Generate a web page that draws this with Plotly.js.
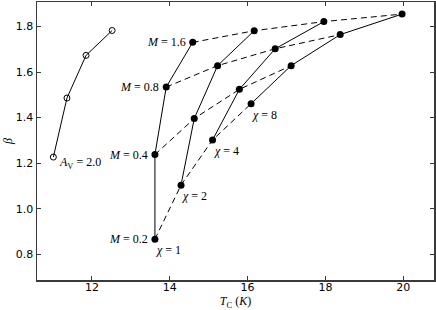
<!DOCTYPE html>
<html>
<head>
<meta charset="utf-8">
<script src="https://cdn.plot.ly/plotly-3.0.1.min.js"></script>
<style>html,body{margin:0;padding:0;background:#fff;}#chart{width:436px;height:310px;}</style>
</head>
<body>
<div id="chart"></div>
<script>
// M values (rows) and chi values (columns)
const Mvals = ["0.2", "0.4", "0.8", "1.6"];
const chiVals = ["1", "2", "4", "8"];
// T_C and beta for each chi, ordered by M
const chi1_T = [13.62, 13.62, 13.91, 14.59];
const chi1_B = [0.867, 1.238, 1.534, 1.730];
const chi2_T = [14.29, 14.63, 15.23, 16.17];
const chi2_B = [1.104, 1.396, 1.628, 1.781];
const chi4_T = [15.10, 15.79, 16.71, 17.96];
const chi4_B = [1.302, 1.524, 1.702, 1.821];
const chi8_T = [16.09, 17.12, 18.38, 19.97];
const chi8_B = [1.461, 1.628, 1.764, 1.854];
// A_V = 2.0 series (open circles)
const av_T = [11.01, 11.36, 11.85, 12.52];
const av_B = [1.227, 1.486, 1.673, 1.782];
const avLabel = "2.0";

const chiT = [chi1_T, chi2_T, chi4_T, chi8_T];
const chiB = [chi1_B, chi2_B, chi4_B, chi8_B];

const traces = [];
// dashed lines: constant M across chi
for (let m = 0; m < Mvals.length; m++) {
  traces.push({
    x: chiT.map(a => a[m]), y: chiB.map(a => a[m]),
    mode: 'lines', line: {color: 'black', width: 1, dash: '6px,4px'},
    hoverinfo: 'skip', showlegend: false
  });
}
// solid lines with markers: constant chi across M
for (let c = 0; c < chiT.length; c++) {
  traces.push({
    x: chiT[c], y: chiB[c], mode: 'lines+markers',
    line: {color: 'black', width: 1},
    marker: {color: 'black', size: 7, line: {width: 0}},
    showlegend: false
  });
}
traces.push({
  x: av_T, y: av_B, mode: 'lines+markers',
  line: {color: 'black', width: 1},
  marker: {symbol: 'circle-open', color: 'black', size: 6, line: {width: 1, color: 'black'}},
  showlegend: false
});

const serif = {family: 'Liberation Serif, DejaVu Serif, serif', size: 12, color: 'black'};
const annotations = [];
for (let m = 0; m < Mvals.length; m++) {
  annotations.push({
    x: chi1_T[m], y: chi1_B[m], xref: 'x', yref: 'y', showarrow: false,
    text: '<i>M</i> = ' + Mvals[m], font: serif,
    xanchor: 'right', yanchor: 'middle', xshift: -5, yshift: 0
  });
}
for (let c = 0; c < chiVals.length; c++) {
  annotations.push({
    x: chiT[c][0], y: chiB[c][0], xref: 'x', yref: 'y', showarrow: false,
    text: '<i>χ</i> = ' + chiVals[c], font: serif,
    xanchor: 'left', yanchor: 'middle', xshift: -1, yshift: -11
  });
}
annotations.push({
  x: av_T[0], y: av_B[0], xref: 'x', yref: 'y', showarrow: false,
  text: '<i>A</i><sub>V</sub> = ' + avLabel, font: serif,
  xanchor: 'left', yanchor: 'middle', xshift: 4, yshift: -6
});

const axisCommon = {
  showgrid: false, zeroline: false, showline: true, mirror: 'ticks',
  linecolor: '#3a3a3a', linewidth: 1.5,
  ticks: 'inside', ticklen: 4, tickcolor: '#3a3a3a', tickwidth: 1,
  tickfont: {family: 'DejaVu Sans, sans-serif', size: 11, color: 'black'}
};

const layout = {
  width: 436, height: 310,
  margin: {l: 37, r: 2, t: 2, b: 30},
  paper_bgcolor: 'white', plot_bgcolor: 'white',
  xaxis: Object.assign({}, axisCommon, {
    range: [10.59, 20.79], tickvals: [12, 14, 16, 18, 20],
    ticklabelstandoff: -4,
    title: {text: '<i>T</i><sub>C</sub>&nbsp;(<i>K</i>)', font: serif, standoff: 7}
  }),
  yaxis: Object.assign({}, axisCommon, {
    range: [0.688, 1.907], tickvals: [0.8, 1.0, 1.2, 1.4, 1.6, 1.8],
    ticktext: ['0.8', '1.0', '1.2', '1.4', '1.6', '1.8'],
    title: {text: '<i>β</i>', font: serif, standoff: 0}
  }),
  annotations: annotations
};

Plotly.newPlot('chart', traces, layout, {staticPlot: true, displayModeBar: false});
</script>
</body>
</html>
